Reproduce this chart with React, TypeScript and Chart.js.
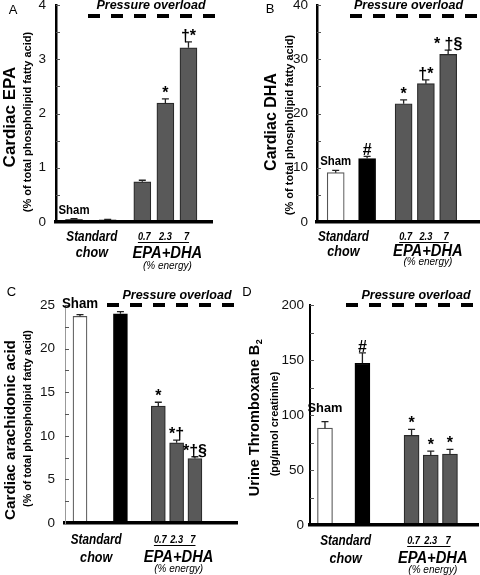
import React, { useEffect, useRef } from "react";
import { Chart, registerables } from "chart.js";

Chart.register(...registerables);

const FONT = "'Liberation Sans', Arial, Helvetica, sans-serif";

// ---------- data ----------
const GROUPS = ["Sham", "Pressure overload, standard chow", "EPA+DHA 0.7%", "EPA+DHA 2.3%", "EPA+DHA 7%"];
const DOSE_LABELS = ["0.7", "2.3", "7"];

const EPA_VALUES = [0.05, 0.04, 0.74, 2.19, 3.21];
const EPA_ERRORS = [0.01, 0.01, 0.03, 0.08, 0.11];
const EPA_MARKS = ["", "", "", "*", "†*"];

const DHA_VALUES = [9.1, 11.7, 21.8, 25.5, 30.9];
const DHA_ERRORS = [0.4, 0.4, 0.7, 0.7, 0.8];
const DHA_MARKS = ["", "#", "*", "†*", "* †§"];

const AA_VALUES = [23.7, 24.0, 13.4, 9.2, 7.4];
const AA_ERRORS = [0.2, 0.25, 0.45, 0.3, 0.2];
const AA_MARKS = ["", "", "*", "*†", "*†§"];

const TXB2_VALUES = [88, 147, 81.5, 63.5, 64.5];
const TXB2_ERRORS = [6, 9.5, 5.5, 3.7, 4.3];
const TXB2_MARKS = ["", "#", "*", "*", "*"];

// ---------- styles ----------
const FILLS = ["#ffffff", "#000000", "#595959", "#595959", "#595959"];
const EDGES = ["#555555", "#000000", "#2a2a2a", "#2a2a2a", "#2a2a2a"];

type Cfg = {
  rect: [number, number, number, number];
  area: { l: number; r: number; t: number; b: number };
  values: number[];
  errors: number[];
  marks: string[];
  yMax: number;
  yStep: number;
  yLabelEvery: number;
  gaps: [number, number];
  xMin: number;
  xMax: number;
  barW: number;
  tickPad: number;
  yAxisColor: string;
  yAxisWidth: number;
  letter: { t: string; x: number; y: number };
  title: { t: string; sub?: string; x: number; y: number; size: number };
  subtitle: { t: string; x: number; y: number; size: number };
  po: { y: number; x0: number; x1: number; textX: number; textY: number };
  sham: { size: number; gap: number; fixedY?: number };
  rows: [number, number, number];
  chowDx: number;
};

const SUBTITLE = "(% of total phospholipid fatty acid)";

const PANELS: Cfg[] = [
  {
    rect: [0, 0, 240, 280],
    area: { l: 56, r: 212, t: 5, b: 222 },
    values: EPA_VALUES, errors: EPA_ERRORS, marks: EPA_MARKS,
    yMax: 4, yStep: 0.5, yLabelEvery: 1,
    gaps: [1.46, 1.5], xMin: -0.78, xMax: 5.98, barW: 17,
    tickPad: 10, yAxisColor: "#000", yAxisWidth: 2.5,
    letter: { t: "A", x: 13, y: 10 },
    title: { t: "Cardiac EPA", x: 10, y: 117, size: 17 },
    subtitle: { t: SUBTITLE, x: 28, y: 122, size: 11 },
    po: { y: 16, x0: 88, x1: 220, textX: 151, textY: 8.5 },
    sham: { size: 12, gap: 5 },
    rows: [15, 31.5, 44], chowDx: 1,
  },
  {
    rect: [240, 0, 240, 280],
    area: { l: 317, r: 480, t: 5, b: 222 },
    values: DHA_VALUES, errors: DHA_ERRORS, marks: DHA_MARKS,
    yMax: 40, yStep: 5, yLabelEvery: 10,
    gaps: [1.41, 1.64], xMin: -0.84, xMax: 6.48, barW: 17,
    tickPad: 9, yAxisColor: "#000", yAxisWidth: 2.5,
    letter: { t: "B", x: 270, y: 9 },
    title: { t: "Cardiac DHA", x: 272, y: 122, size: 16 },
    subtitle: { t: SUBTITLE, x: 290, y: 125, size: 11 },
    po: { y: 16, x0: 350, x1: 480, textX: 408.5, textY: 8.5 },
    sham: { size: 12, gap: 5 },
    rows: [15, 30, 40], chowDx: -8,
  },
  {
    rect: [0, 280, 240, 295],
    area: { l: 65, r: 237, t: 305, b: 523 },
    values: AA_VALUES, errors: AA_ERRORS, marks: AA_MARKS,
    yMax: 25, yStep: 2.5, yLabelEvery: 5,
    gaps: [2.21, 2.07], xMin: -0.82, xMax: 8.58, barW: 14,
    tickPad: 10, yAxisColor: "#999", yAxisWidth: 1,
    letter: { t: "C", x: 11.5, y: 292.5 },
    title: { t: "Cardiac arachidonic acid", x: 10.5, y: 430, size: 15.2 },
    subtitle: { t: SUBTITLE, x: 28, y: 418.5, size: 10.8 },
    po: { y: 305, x0: 107, x1: 240, textX: 177, textY: 299 },
    sham: { size: 14, gap: 0, fixedY: 308 },
    rows: [17, 35, 46], chowDx: -4,
  },
  {
    rect: [240, 280, 240, 295],
    area: { l: 310, r: 478, t: 305, b: 525 },
    values: TXB2_VALUES, errors: TXB2_ERRORS, marks: TXB2_MARKS,
    yMax: 200, yStep: 25, yLabelEvery: 50,
    gaps: [1.95, 2.56], xMin: -0.78, xMax: 7.97, barW: 15,
    tickPad: 6, yAxisColor: "#000", yAxisWidth: 2,
    letter: { t: "D", x: 247, y: 292 },
    title: { t: "Urine Thromboxane B", sub: "2", x: 255, y: 418, size: 14.5 },
    subtitle: { t: "(pg/µmol creatinine)", x: 275, y: 424, size: 11 },
    po: { y: 305, x0: 346, x1: 480, textX: 416, textY: 299 },
    sham: { size: 13.5, gap: 10 },
    rows: [16, 34, 45], chowDx: 2,
  },
];

function drawText(
  ctx: CanvasRenderingContext2D,
  s: string,
  x: number,
  y: number,
  font: string,
  o: { align?: CanvasTextAlign; baseline?: CanvasTextBaseline; sx?: number; rot?: number; color?: string } = {}
) {
  ctx.save();
  ctx.translate(x, y);
  if (o.rot) ctx.rotate(o.rot);
  ctx.scale(o.sx ?? 1, 1);
  ctx.font = font;
  ctx.textAlign = o.align ?? "center";
  ctx.textBaseline = o.baseline ?? "middle";
  ctx.fillStyle = o.color ?? "#000";
  ctx.fillText(s, 0, 0);
  ctx.restore();
}

function makePlugin(cfg: Cfg) {
  return {
    id: "panelAnnotations",
    afterDraw(chart: any) {
      const ctx: CanvasRenderingContext2D = chart.ctx;
      const [ox, oy] = cfg.rect;
      const X = (p: number) => p - ox;
      const Y = (p: number) => p - oy;
      const ys = chart.scales.y;
      const area = chart.chartArea;
      const meta = chart.getDatasetMeta(0);
      const bx = (i: number) => meta.data[i].x as number;

      ctx.save();

      // inward tick marks
      ctx.strokeStyle = "#555";
      ctx.lineWidth = 1;
      ys.ticks.forEach((t: any) => {
        if (t.value === 0) return;
        const py = Math.round(ys.getPixelForValue(t.value)) + 0.5;
        ctx.beginPath();
        ctx.moveTo(area.left, py);
        ctx.lineTo(area.left + 4, py);
        ctx.stroke();
      });

      // error bars + significance marks
      cfg.values.forEach((v, i) => {
        const x = bx(i);
        const yv = ys.getPixelForValue(v);
        const ye = ys.getPixelForValue(v + cfg.errors[i]);
        ctx.strokeStyle = "#222";
        ctx.lineWidth = 1.3;
        ctx.beginPath();
        ctx.moveTo(x, yv);
        ctx.lineTo(x, ye);
        ctx.moveTo(x - 3.5, ye);
        ctx.lineTo(x + 3.5, ye);
        ctx.stroke();
        if (cfg.marks[i]) {
          drawText(ctx, cfg.marks[i], x, ye - 1, `bold 16px ${FONT}`, { baseline: "alphabetic" });
        }
      });

      // Sham label
      {
        const x = bx(0);
        const ye = ys.getPixelForValue(cfg.values[0] + cfg.errors[0]);
        const yb = cfg.sham.fixedY !== undefined ? Y(cfg.sham.fixedY) : ye - cfg.sham.gap;
        drawText(ctx, GROUPS[0], x, yb, `bold ${cfg.sham.size}px ${FONT}`, { baseline: "alphabetic", sx: 0.95 });
      }

      // Pressure overload
      ctx.strokeStyle = "#000";
      ctx.lineWidth = 4;
      ctx.setLineDash([12, 11]);
      ctx.beginPath();
      ctx.moveTo(X(cfg.po.x0), Y(cfg.po.y));
      ctx.lineTo(X(cfg.po.x1), Y(cfg.po.y));
      ctx.stroke();
      ctx.setLineDash([]);
      drawText(ctx, "Pressure overload", X(cfg.po.textX), Y(cfg.po.textY), `italic bold 12.5px ${FONT}`, { baseline: "alphabetic" });

      // panel letter
      drawText(ctx, cfg.letter.t, X(cfg.letter.x), Y(cfg.letter.y), `13px ${FONT}`);

      // y titles
      {
        const t = cfg.title;
        ctx.save();
        ctx.translate(X(t.x), Y(t.y));
        ctx.rotate(-Math.PI / 2);
        ctx.fillStyle = "#000";
        ctx.textBaseline = "middle";
        ctx.textAlign = "left";
        const mainFont = `bold ${t.size}px ${FONT}`;
        const subFont = `bold ${t.size * 0.62}px ${FONT}`;
        ctx.font = mainFont;
        const wm = ctx.measureText(t.t).width;
        let ws = 0;
        if (t.sub) {
          ctx.font = subFont;
          ws = ctx.measureText(t.sub).width;
        }
        const start = -(wm + ws) / 2;
        ctx.font = mainFont;
        ctx.fillText(t.t, start, 0);
        if (t.sub) {
          ctx.font = subFont;
          ctx.fillText(t.sub, start + wm + 0.5, t.size * 0.32);
        }
        ctx.restore();
      }
      drawText(ctx, cfg.subtitle.t, X(cfg.subtitle.x), Y(cfg.subtitle.y), `bold ${cfg.subtitle.size}px ${FONT}`, {
        rot: -Math.PI / 2,
      });

      // x group labels
      const base = Y(cfg.area.b);
      const chowX = (bx(0) + bx(1)) / 2 + cfg.chowDx;
      const lab = `italic bold 14px ${FONT}`;
      drawText(ctx, "Standard", chowX, base + cfg.rows[0], lab, { sx: 0.84 });
      drawText(ctx, "chow", chowX, base + cfg.rows[1], lab, { sx: 0.9 });

      const doseFont = `italic bold 10.5px ${FONT}`;
      let minX = Infinity;
      let maxX = -Infinity;
      DOSE_LABELS.forEach((d, k) => {
        const x = bx(k + 2) - (k - 1) * 2;
        drawText(ctx, d, x, base + cfg.rows[0], doseFont, { sx: 0.88 });
        ctx.font = doseFont;
        const w = ctx.measureText(d).width * 0.88;
        minX = Math.min(minX, x - w / 2);
        maxX = Math.max(maxX, x + w / 2);
      });
      ctx.strokeStyle = "#000";
      ctx.lineWidth = 1;
      ctx.beginPath();
      ctx.moveTo(minX, base + cfg.rows[0] + 5.5);
      ctx.lineTo(maxX, base + cfg.rows[0] + 5.5);
      ctx.stroke();

      const fishX = bx(3) + 2;
      drawText(ctx, "EPA+DHA", fishX, base + cfg.rows[1], `italic bold 16px ${FONT}`, { sx: 0.92 });
      drawText(ctx, "(% energy)", fishX, base + cfg.rows[2], `italic 10px ${FONT}`);

      ctx.restore();
    },
  };
}

function Panel({ cfg }: { cfg: Cfg }) {
  const ref = useRef<HTMLCanvasElement>(null);
  const [left, top, w, h] = cfg.rect;

  useEffect(() => {
    if (!ref.current) return;
    const [g1, g2] = cfg.gaps;
    const slots = [0, g1, g1 + g2, g1 + g2 + 1, g1 + g2 + 2];
    const chart = new Chart(ref.current, {
      type: "bar",
      data: {
        datasets: [
          {
            data: cfg.values.map((v, i) => ({ x: slots[i], y: v })),
            backgroundColor: FILLS,
            borderColor: EDGES,
            borderWidth: 1.2,
            barThickness: cfg.barW,
          } as any,
        ],
      },
      options: {
        responsive: false,
        maintainAspectRatio: false,
        animation: false,
        layout: {
          padding: { left: 0, top: cfg.area.t - top, right: left + w - cfg.area.r, bottom: 0 },
        },
        plugins: { legend: { display: false }, tooltip: { enabled: false } },
        scales: {
          x: {
            type: "linear",
            min: cfg.xMin,
            max: cfg.xMax,
            bounds: "data",
            offset: false,
            grid: { display: false, offset: false, drawTicks: false },
            ticks: { display: false },
            border: { display: true, color: "#000", width: 3.5, z: 1 },
            afterFit: (s: any) => {
              s.height = top + h - cfg.area.b;
              s.paddingLeft = 0;
              s.paddingRight = 0;
            },
          },
          y: {
            min: 0,
            max: cfg.yMax,
            grid: { display: false, drawTicks: false },
            border: { display: true, color: cfg.yAxisColor, width: cfg.yAxisWidth, z: 1 },
            ticks: {
              stepSize: cfg.yStep,
              autoSkip: false,
              maxTicksLimit: 30,
              padding: cfg.tickPad,
              color: "#111",
              font: { family: FONT, size: 13.5 },
              callback: (v: any) => {
                const r = Number(v) / cfg.yLabelEvery;
                return Math.abs(r - Math.round(r)) < 1e-6 ? String(Number(v)) : "";
              },
            },
            afterFit: (s: any) => {
              s.width = cfg.area.l - left;
              s.paddingTop = 0;
              s.paddingBottom = 0;
            },
          },
        },
      } as any,
      plugins: [makePlugin(cfg)],
    });
    return () => chart.destroy();
  }, []);

  return (
    <canvas
      ref={ref}
      width={w}
      height={h}
      style={{ position: "absolute", left, top, width: w, height: h }}
    />
  );
}

export default function App() {
  return (
    <div style={{ position: "absolute", left: 0, top: 0, width: 480, height: 575, background: "#fff", overflow: "hidden" }}>
      {PANELS.map((p, i) => (
        <Panel key={i} cfg={p} />
      ))}
    </div>
  );
}
